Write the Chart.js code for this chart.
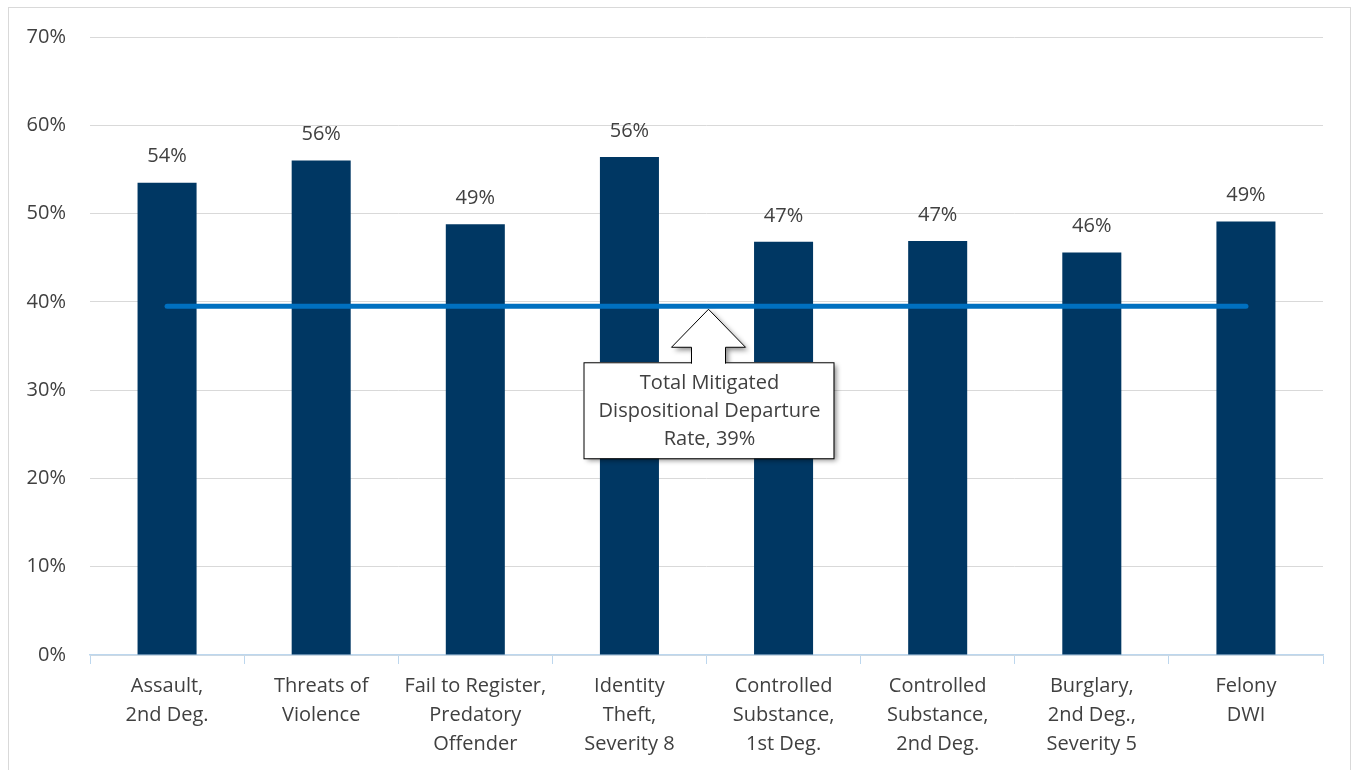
<!DOCTYPE html>
<html>
<head>
<meta charset="utf-8">
<script src="https://cdn.jsdelivr.net/npm/chart.js@4.4.1/dist/chart.umd.min.js"></script>
<style>
  html, body { margin: 0; padding: 0; background: #fff; }
  #wrap { width: 1353px; height: 770px; position: relative; }
</style>
</head>
<body>
<div id="wrap"><canvas id="chart"></canvas></div>
<script>
// chart data
const categories = [
  ['Assault,', '2nd Deg.'],
  ['Threats of', 'Violence'],
  ['Fail to Register,', 'Predatory', 'Offender'],
  ['Identity', 'Theft,', 'Severity 8'],
  ['Controlled', 'Substance,', '1st Deg.'],
  ['Controlled', 'Substance,', '2nd Deg.'],
  ['Burglary,', '2nd Deg.,', 'Severity 5'],
  ['Felony', 'DWI']
];
const departureRates = [53.5, 56.0, 48.8, 56.4, 46.8, 46.9, 45.6, 49.1];
const totalRate = 39.5;
const totalLabel = ['Total Mitigated', 'Dispositional Departure', 'Rate, 39%'];
const yTicks = [0, 10, 20, 30, 40, 50, 60, 70];

const FONT = "'Open Sans', 'Liberation Sans', sans-serif";
const TEXT = '#404040';
const SIZE = 20;

// outer frame like the spreadsheet chart border
const framePlugin = {
  id: 'frame',
  beforeDraw(chart) {
    const c = chart.ctx;
    c.save();
    c.fillStyle = '#fff';
    c.fillRect(0, 0, chart.width, chart.height);
    c.strokeStyle = '#d9d9d9';
    c.lineWidth = 1;
    c.strokeRect(8.5, 7.5, 1342, 800);
    c.restore();
  }
};

// percent labels above bars
const barLabels = {
  id: 'barLabels',
  afterDatasetsDraw(chart) {
    const meta = chart.getDatasetMeta(1);
    const c = chart.ctx;
    c.save();
    c.font = `${SIZE}px ${FONT}`;
    c.fillStyle = TEXT;
    c.textAlign = 'center';
    c.textBaseline = 'middle';
    meta.data.forEach((bar, i) => {
      c.fillText(Math.round(departureRates[i]) + '%', bar.x, bar.y - 26);
    });
    c.restore();
  }
};

// arrow callout pointing at the total line
const callout = {
  id: 'callout',
  afterDraw(chart) {
    const xs = chart.scales.x, ys = chart.scales.y;
    const tipX = (xs.getPixelForValue(3) + xs.getPixelForValue(4)) / 2 + 2;
    const tipY = ys.getPixelForValue(totalRate) + 3;
    const c = chart.ctx;
    const boxW = 250, boxH = 96, boxTop = tipY + 53;
    const boxL = tipX - boxW / 2;
    c.save();
    c.shadowColor = 'rgba(0,0,0,0.45)';
    c.shadowBlur = 5;
    c.shadowOffsetX = 3;
    c.shadowOffsetY = 3;
    c.fillStyle = '#fff';
    c.fillRect(boxL, boxTop, boxW, boxH);
    c.beginPath();
    c.moveTo(tipX, tipY);
    c.lineTo(tipX + 37, tipY + 38);
    c.lineTo(tipX + 17, tipY + 38);
    c.lineTo(tipX + 17, boxTop + 1);
    c.lineTo(tipX - 17, boxTop + 1);
    c.lineTo(tipX - 17, tipY + 38);
    c.lineTo(tipX - 37, tipY + 38);
    c.closePath();
    c.fill();
    c.shadowColor = 'transparent';
    c.fillRect(boxL, boxTop, boxW, boxH);
    c.fill();
    c.strokeStyle = '#000';
    c.lineWidth = 1;
    c.strokeRect(boxL + 0.5, boxTop + 0.5, boxW, boxH);
    c.stroke();
    c.fillStyle = '#fff';
    c.fillRect(tipX - 16.5, boxTop - 1, 33, 3);
    c.font = `${SIZE}px ${FONT}`;
    c.fillStyle = TEXT;
    c.textAlign = 'center';
    c.textBaseline = 'middle';
    totalLabel.forEach((line, i) => c.fillText(line, tipX + 1, boxTop + 21 + i * 28));
    c.restore();
  }
};

new Chart(document.getElementById('chart'), {
  data: {
    labels: categories,
    datasets: [
      {
        type: 'line',
        label: 'Total',
        data: categories.map(() => totalRate),
        borderColor: '#0070C0',
        borderWidth: 5,
        borderCapStyle: 'round',
        pointRadius: 0,
        order: 0
      },
      {
        type: 'bar',
        label: 'Departure rate',
        data: departureRates,
        backgroundColor: '#003763',
        categoryPercentage: 1,
        barPercentage: 0.383,
        order: 1
      }
    ]
  },
  options: {
    responsive: true,
    maintainAspectRatio: false,
    animation: false,
    layout: { padding: { left: 0, right: 30, top: 37, bottom: 0 } },
    plugins: { legend: { display: false }, tooltip: { enabled: false } },
    scales: {
      x: {
        offset: true,
        grid: {
          offset: true,
          drawOnChartArea: false,
          drawTicks: true,
          tickLength: 9,
          color: '#bdd7ee'
        },
        border: { color: '#bdd7ee', width: 1.5 },
        ticks: {
          font: { family: FONT, size: SIZE, lineHeight: 1.45 },
          color: TEXT,
          maxRotation: 0,
          autoSkip: false,
          padding: 8
        },
        afterFit(scale) { scale.height = 115; }
      },
      y: {
        min: 0,
        max: 70,
        afterBuildTicks(scale) { scale.ticks = yTicks.map(v => ({ value: v })); },
        grid: { color: '#d9d9d9', drawTicks: false },
        border: { display: false },
        ticks: {
          font: { family: FONT, size: SIZE },
          color: TEXT,
          padding: 24,
          callback: v => v + '%'
        },
        afterFit(scale) { scale.width = 90; }
      }
    }
  },
  plugins: [framePlugin, barLabels, callout]
});
</script>
</body>
</html>
